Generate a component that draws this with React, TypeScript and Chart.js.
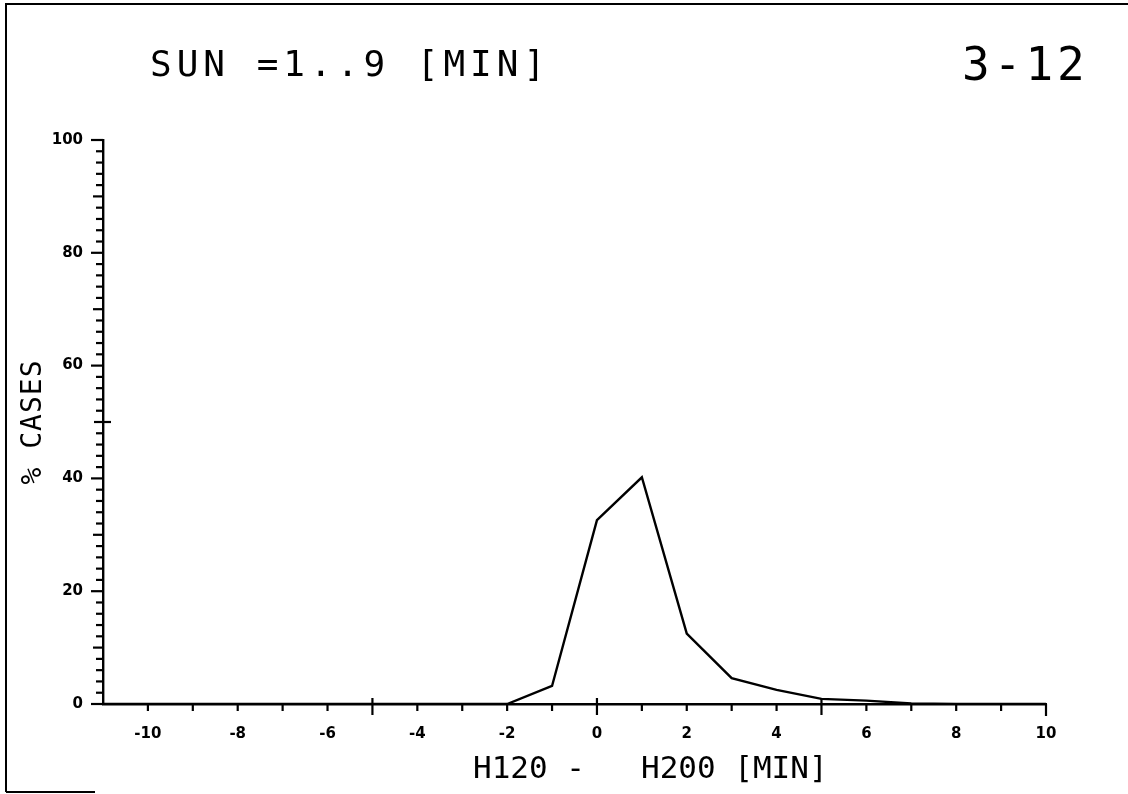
import React, { useEffect, useRef } from "react";
import { Chart, registerables } from "chart.js";

Chart.register(...registerables);

// ---- data ----
const xValues = [-11, -10, -9, -8, -7, -6, -5, -4, -3, -2, -1, 0, 1, 2, 3, 4, 5, 6, 7, 8, 9, 10];
const percentCases = [0, 0, 0, 0, 0, 0, 0, 0, 0, 0, 3.2, 32.6, 40.2, 12.5, 4.6, 2.5, 0.9, 0.6, 0.1, 0, 0, 0];
const xTickLabels = [-10, -8, -6, -4, -2, 0, 2, 4, 6, 8, 10];
const yTickLabels = [0, 20, 40, 60, 80, 100];
const titleText = "SUN =1..9 [MIN]";
const figureId = "3-12";
const xAxisTitle = "H120 -   H200 [MIN]";
const yAxisTitle = "% CASES";

const MONO = '"DejaVu Sans Mono", monospace';

const decorPlugin = {
  id: "decor",
  afterDraw(chart: any) {
    const ctx = chart.ctx as CanvasRenderingContext2D;
    const xs = chart.scales.x;
    const ys = chart.scales.y;
    const y0 = ys.getPixelForValue(0);
    const xl = xs.getPixelForValue(-11);
    ctx.save();
    ctx.strokeStyle = "#000";
    ctx.fillStyle = "#000";
    ctx.lineWidth = 2.2;
    ctx.lineCap = "butt";

    // x ticks
    for (let v = -11; v <= 10; v++) {
      const px = xs.getPixelForValue(v);
      let up = 0;
      let down = 7;
      if (v === -5 || v === 0 || v === 5) {
        up = 6;
        down = 11;
      }
      if (v === 10) down = 12;
      if (v === -11) down = 0;
      ctx.beginPath();
      ctx.moveTo(px, y0 - up);
      ctx.lineTo(px, y0 + down);
      ctx.stroke();
    }
    // y ticks
    for (let v = 0; v <= 100; v += 2) {
      const py = ys.getPixelForValue(v);
      let left = 7;
      let right = 0;
      if (v % 10 === 0) left = 10;
      if (v % 20 === 0) left = 12;
      if (v === 50) {
        left = 9;
        right = 8;
      }
      ctx.beginPath();
      ctx.moveTo(xl - left, py);
      ctx.lineTo(xl + right, py);
      ctx.stroke();
    }

    // frame
    ctx.lineWidth = 2;
    ctx.beginPath();
    ctx.moveTo(6, 792);
    ctx.lineTo(6, 4);
    ctx.lineTo(1128, 4);
    ctx.stroke();
    ctx.beginPath();
    ctx.moveTo(6, 792);
    ctx.lineTo(95, 792);
    ctx.stroke();

    // texts
    (ctx as any).letterSpacing = "5px";
    ctx.font = `36px ${MONO}`;
    ctx.textAlign = "left";
    ctx.textBaseline = "alphabetic";
    ctx.fillText(titleText, 150, 76);

    (ctx as any).letterSpacing = "4px";
    ctx.font = `46px ${MONO}`;
    ctx.fillText(figureId, 962, 80);

    (ctx as any).letterSpacing = "0px";
    ctx.font = `31px ${MONO}`;
    ctx.fillText(xAxisTitle, 473, 778);

    ctx.translate(34, (chart.chartArea.top + chart.chartArea.bottom) / 2);
    ctx.rotate(-Math.PI / 2);
    ctx.textAlign = "center";
    ctx.textBaseline = "middle";
    ctx.font = `28px ${MONO}`;
    (ctx as any).letterSpacing = "1px";
    ctx.fillText(yAxisTitle, 0, 0);
    ctx.restore();
  },
};

export default function App() {
  const ref = useRef<HTMLCanvasElement>(null);
  useEffect(() => {
    document.body.style.margin = "0";
    const canvas = ref.current!;
    const chart = new Chart(canvas, {
      type: "line",
      data: {
        datasets: [
          {
            data: xValues.map((x, i) => ({ x, y: percentCases[i] })),
            borderColor: "#000",
            borderWidth: 2.4,
            pointRadius: 0,
            tension: 0,
            fill: false,
          },
        ],
      },
      options: {
        animation: false,
        responsive: false,
        devicePixelRatio: 1,
        layout: { padding: { top: 140, right: 82, left: 0, bottom: 0 } },
        plugins: { legend: { display: false }, tooltip: { enabled: false }, title: { display: false } },
        scales: {
          x: {
            type: "linear",
            min: -11,
            max: 10,
            afterFit: (s: any) => {
              s.height = 90;
            },
            grid: { display: false, drawTicks: false, tickLength: 0 },
            border: { display: true, color: "#000", width: 2.4 },
            ticks: {
              stepSize: 1,
              autoSkip: false,
              maxRotation: 0,
              padding: 21,
              color: "#000",
              font: { family: '"DejaVu Sans"', size: 15, weight: "bold" },
              callback: (v: any) => (xTickLabels.includes(Number(v)) ? String(v) : ""),
            },
          },
          y: {
            type: "linear",
            min: 0,
            max: 100,
            afterFit: (s: any) => {
              s.width = 103;
            },
            grid: { display: false, drawTicks: false, tickLength: 0 },
            border: { display: true, color: "#000", width: 2.4 },
            ticks: {
              stepSize: 20,
              padding: 20,
              color: "#000",
              font: { family: '"DejaVu Sans"', size: 15, weight: "bold" },
              callback: (v: any) => (yTickLabels.includes(Number(v)) ? String(v) : ""),
            },
          },
        },
      },
      plugins: [decorPlugin],
    } as any);
    return () => chart.destroy();
  }, []);
  return (
    <div style={{ width: 1128, height: 794, background: "#fff" }}>
      <canvas ref={ref} width={1128} height={794} style={{ display: "block" }} />
    </div>
  );
}
